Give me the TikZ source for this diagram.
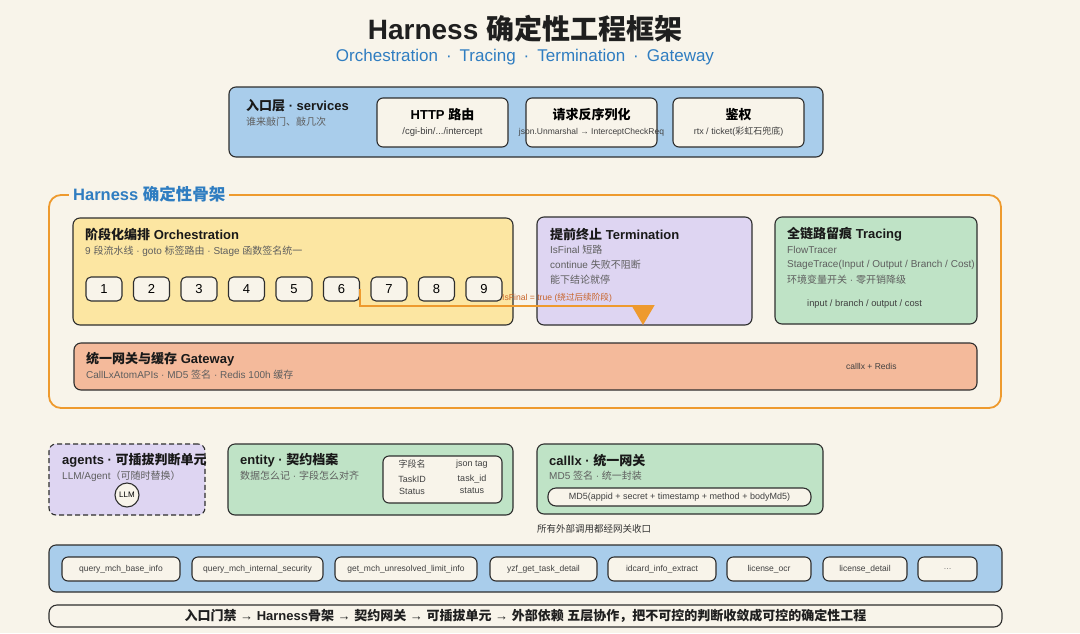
\documentclass[tikz,border=0pt]{standalone}
\usepackage{fontspec}
\setmainfont{Liberation Sans}
\newfontfamily\latinf{Liberation Sans}
\newfontfamily\cjkf{Noto Sans CJK SC}
\XeTeXinterchartokenstate=1
\newXeTeXintercharclass\CJKcls
\count255="4E00
\loop\XeTeXcharclass\count255=\CJKcls\advance\count255 by 1 \ifnum\count255<"A000 \repeat
\count255="3000
\loop\XeTeXcharclass\count255=\CJKcls\advance\count255 by 1 \ifnum\count255<"3040 \repeat
\count255="FF00
\loop\XeTeXcharclass\count255=\CJKcls\advance\count255 by 1 \ifnum\count255<"FFF0 \repeat
\XeTeXinterchartoks 0 \CJKcls = {\cjkf}
\XeTeXinterchartoks 4095 \CJKcls = {\cjkf}
\XeTeXinterchartoks \CJKcls 0 = {\latinf}
\XeTeXinterchartoks \CJKcls 4095 = {\latinf}
\newcommand{\subsep}{\hspace{8pt}·\hspace{8pt}}
\usetikzlibrary{arrows.meta}
\definecolor{bgC}{HTML}{F8F4EA}
\definecolor{blueF}{HTML}{A9CDEB}
\definecolor{yellowF}{HTML}{FCE6A2}
\definecolor{purpleF}{HTML}{DED5F2}
\definecolor{greenF}{HTML}{BFE3C6}
\definecolor{salmonF}{HTML}{F4BA9B}
\definecolor{orangeC}{HTML}{EE9A2E}
\definecolor{creamF}{HTML}{F8F4EA}
\definecolor{lineC}{HTML}{2E2E2E}
\definecolor{grayT}{HTML}{5E5E5E}
\definecolor{blueT}{HTML}{2F7DC1}
\definecolor{brownT}{HTML}{C8642A}
\tikzset{
  box/.style={draw=lineC, line width=1.1pt, rounded corners=7pt, inner sep=0pt},
  pillbox/.style={draw=lineC, line width=1.1pt, fill=creamF, rounded corners=6pt, inner sep=0pt},
  ttl/.style={anchor=west, font=\fontsize{13}{15}\selectfont\bfseries, text=black!90, inner sep=0pt},
  subt/.style={anchor=west, font=\fontsize{10}{12}\selectfont, text=grayT, inner sep=0pt},
  codet/.style={font=\fontsize{9}{11}\selectfont, text=black!75, inner sep=0pt},
  stepbox/.style={draw=lineC, line width=1.1pt, fill=creamF, rounded corners=5pt, minimum width=36pt, minimum height=24pt, font=\fontsize{13}{15}\selectfont, inner sep=0pt},
}
\begin{document}
\begin{tikzpicture}[x=1pt,y=-1pt]
\useasboundingbox[fill=bgC] (0,0) rectangle (1080,633);

% title
\node[font=\fontsize{28}{32}\selectfont\bfseries, text=black!88, inner sep=0pt] (title) at (525,29) {Harness 确定性工程框架};
\node[font=\fontsize{17}{20}\selectfont, text=blueT, inner sep=0pt] (subtitle) at (525,57) {Orchestration\subsep Tracing\subsep Termination\subsep Gateway};

% services layer
\node[box, fill=blueF, minimum width=594pt, minimum height=70pt] (svc) at (526,122) {};
\node[ttl] (svct) at (246,106) {入口层 · services};
\node[subt] (svcs) at (246,122) {谁来敲门、敲几次};
\node[pillbox, minimum width=131pt, minimum height=49pt] (http) at (442.5,122.5) {};
\node[font=\fontsize{13}{15}\selectfont\bfseries, inner sep=0pt] (httpt) at (442.5,115) {HTTP 路由};
\node[codet, font=\fontsize{9.5}{11}\selectfont] (https) at (442.5,132) {/cgi-bin/.../intercept};
\node[pillbox, minimum width=131pt, minimum height=49pt] (deser) at (591.5,122.5) {};
\node[font=\fontsize{13}{15}\selectfont\bfseries, inner sep=0pt] (desert) at (591.5,115) {请求反序列化};
\node[codet, font=\fontsize{8.5}{10}\selectfont] (desers) at (591.5,132) {json.Unmarshal → InterceptCheckReq};
\node[pillbox, minimum width=131pt, minimum height=49pt] (auth) at (738.5,122.5) {};
\node[font=\fontsize{13}{15}\selectfont\bfseries, inner sep=0pt] (autht) at (738.5,115) {鉴权};
\node[codet] (auths) at (738.5,132) {rtx / ticket(彩虹石兜底)};

% harness frame
\node[draw=orangeC, line width=1.8pt, rounded corners=12pt, minimum width=952pt, minimum height=213pt, inner sep=0pt] (frame) at (525,301.5) {};
\node[anchor=west, fill=bgC, inner xsep=4pt, inner ysep=2pt, font=\fontsize{16.5}{19}\selectfont\bfseries, text=blueT] (framet) at (69,194) {Harness 确定性骨架};

% orchestration
\node[box, fill=yellowF, minimum width=440pt, minimum height=107pt] (orch) at (293,271.5) {};
\node[ttl] (orcht) at (85,234) {阶段化编排 Orchestration};
\node[subt] (orchs) at (85,251) {9 段流水线 · goto 标签路由 · Stage 函数签名统一};
\foreach \i in {1,2,3,4,5,6,7,8,9} {
  \node[stepbox] (s\i) at ({104+47.5*(\i-1)},289) {\i};
}

% termination
\node[box, fill=purpleF, minimum width=215pt, minimum height=108pt] (term) at (644.5,271) {};
\node[ttl] (termt) at (550,234) {提前终止 Termination};
\node[subt] (terms1) at (550,250) {IsFinal 短路};
\node[subt] (terms2) at (550,265) {continue 失败不阻断};
\node[subt] (terms3) at (550,280) {能下结论就停};

% tracing
\node[box, fill=greenF, minimum width=202pt, minimum height=107pt] (trace) at (876,270.5) {};
\node[ttl] (tracet) at (787,234) {全链路留痕 Tracing};
\node[subt] (traces1) at (787,250) {FlowTracer};
\node[subt] (traces2) at (787,265) {StageTrace(Input / Output / Branch / Cost)};
\node[subt] (traces3) at (787,280) {环境变量开关 · 零开销降级};
\node[codet, anchor=west, font=\fontsize{9.3}{11}\selectfont] (traces4) at (807,304) {input / branch / output / cost};

% IsFinal arrow
\draw[orangeC, line width=1.6pt, -{Triangle[width=23pt,length=20pt]}] (s6.east) |- (643,306) -- (643,325);
\node[anchor=west, inner sep=0pt, font=\fontsize{8.6}{10}\selectfont, text=brownT] (arrowlbl) at (502,298) {IsFinal = true (绕过后续阶段)};

% gateway
\node[box, fill=salmonF, minimum width=903pt, minimum height=47pt] (gw) at (525.5,366.5) {};
\node[ttl] (gwt) at (86,359) {统一网关与缓存 Gateway};
\node[subt] (gws) at (86,375) {CallLxAtomAPIs · MD5 签名 · Redis 100h 缓存};
\node[codet, anchor=west, font=\fontsize{8.5}{10}\selectfont] (gwr) at (846,366) {calllx + Redis};

% agents
\node[box, fill=purpleF, dash pattern=on 5pt off 3pt, minimum width=156pt, minimum height=71pt] (agents) at (127,479.5) {};
\node[ttl] (agentst) at (62,460) {agents · 可插拔判断单元};
\node[subt] (agentss) at (62,476) {LLM/Agent（可随时替换）};
\node[circle, draw=lineC, line width=1.1pt, fill=creamF, minimum size=24pt, inner sep=0pt, font=\fontsize{8}{10}\selectfont] (llm) at (127,495) {LLM};

% entity
\node[box, fill=greenF, minimum width=285pt, minimum height=71pt] (entity) at (370.5,479.5) {};
\node[ttl] (entityt) at (240,460) {entity · 契约档案};
\node[subt] (entitys) at (240,476) {数据怎么记 · 字段怎么对齐};
\node[pillbox, minimum width=119pt, minimum height=47pt] (table) at (442.5,479.5) {};
\node[codet] (th1) at (412,464) {字段名};
\node[codet] (th2) at (472,464) {json tag};
\node[codet] (td11) at (412,479) {TaskID};
\node[codet] (td12) at (472,479) {task\_id};
\node[codet] (td21) at (412,491) {Status};
\node[codet] (td22) at (472,491) {status};

% calllx
\node[box, fill=greenF, minimum width=286pt, minimum height=70pt] (calllx) at (680,479) {};
\node[ttl] (calllxt) at (549,461) {calllx · 统一网关};
\node[subt] (calllxs) at (549,476) {MD5 签名 · 统一封装};
\node[pillbox, rounded corners=8pt, minimum width=263pt, minimum height=18pt] (md5) at (679.5,497) {};
\node[codet] (md5t) at (679.5,497) {MD5(appid + secret + timestamp + method + bodyMd5)};
\node[anchor=west, inner sep=0pt, font=\fontsize{9.5}{11}\selectfont, text=black!80] (note) at (537,529) {所有外部调用都经网关收口};

% external services
\node[box, fill=blueF, minimum width=953pt, minimum height=47pt] (ext) at (525.5,568.5) {};
\foreach \n/\a/\b/\t in {e1/62/180/query\_mch\_base\_info, e2/192/323/query\_mch\_internal\_security, e3/335/477/get\_mch\_unresolved\_limit\_info, e4/490/597/yzf\_get\_task\_detail, e5/608/716/idcard\_info\_extract, e6/727/811/license\_ocr, e7/823/907/license\_detail} {
  \node[pillbox, minimum width={(\b-\a)*1pt}, minimum height=24pt, font=\fontsize{8.5}{10}\selectfont, text=black!75] (\n) at ({(\a+\b)/2},569) {\t};
}
\node[pillbox, minimum width=59pt, minimum height=24pt, font=\fontsize{8}{10}\selectfont, text=black!60] (e8) at (947.5,569) {\ldots};

% bottom bar
\node[box, fill=creamF, rounded corners=8pt, minimum width=953pt, minimum height=22pt, font=\fontsize{13}{15}\selectfont\bfseries, text=black!88] (bar) at (525.5,616) {入口门禁 → Harness骨架 → 契约网关 → 可插拔单元 → 外部依赖 五层协作，把不可控的判断收敛成可控的确定性工程};
\end{tikzpicture}
\end{document}
